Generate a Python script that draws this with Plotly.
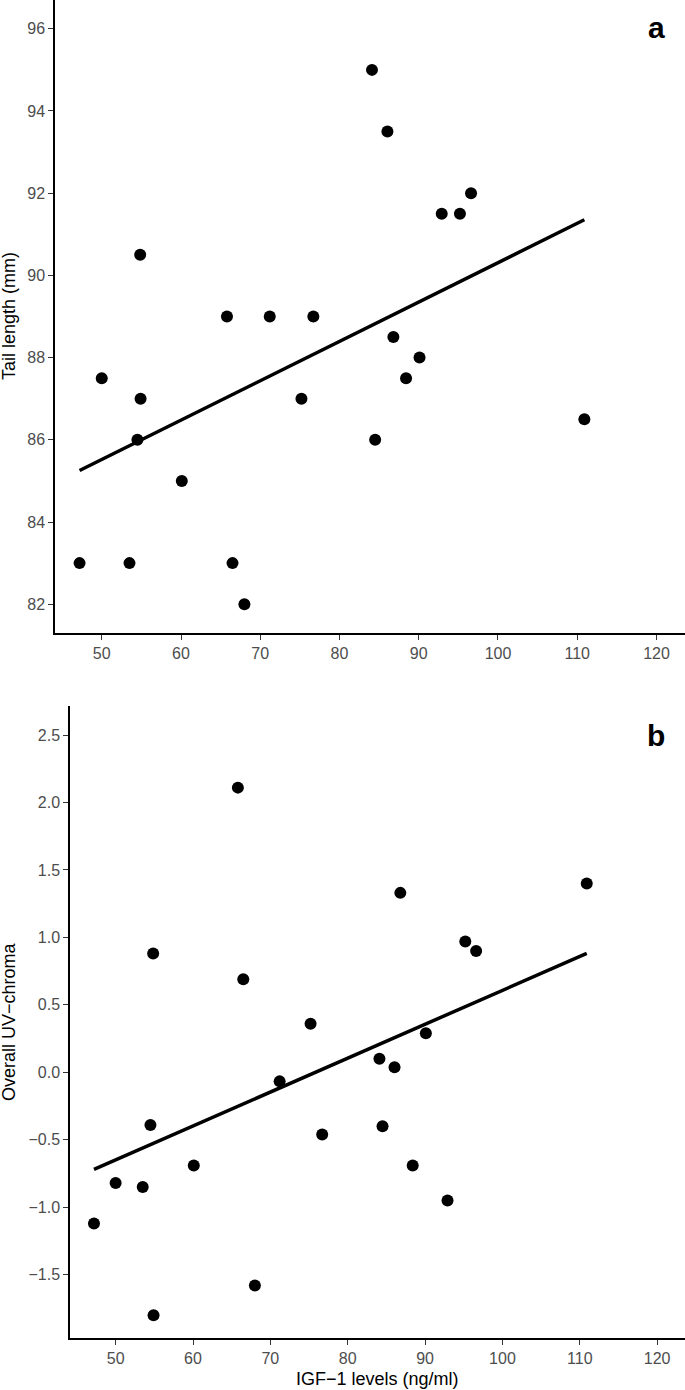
import numpy as np
import plotly.graph_objects as go

# IGF-1 levels (ng/ml), one value per individual (shared by both panels)
igf = [47.2, 50.0, 53.5, 54.5, 54.85, 54.9, 60.1, 65.8, 66.5, 68.0, 71.2, 75.2,
       76.7, 84.1, 84.5, 86.05, 86.8, 88.4, 90.1, 92.9, 95.2, 96.6, 110.9]
# Panel a: tail length (mm)
tail = [83, 87.5, 83, 86, 90.5, 87, 85, 89, 83, 82, 89, 87,
        89, 95, 86, 93.5, 88.5, 87.5, 88, 91.5, 91.5, 92, 86.5]
# Panel b: overall UV-chroma
uv = [-1.12, -0.82, -0.85, -0.39, 0.88, -1.80, -0.69, 2.11, 0.69, -1.58, -0.067, 0.36,
      -0.46, 0.10, -0.40, 0.037, 1.33, -0.69, 0.29, -0.95, 0.97, 0.90, 1.40]

x_ticks = [50, 60, 70, 80, 90, 100, 110, 120]
tail_ticks = [82, 84, 86, 88, 90, 92, 94, 96]
uv_ticks = [-1.5, -1.0, -0.5, 0.0, 0.5, 1.0, 1.5, 2.0, 2.5]

FONT = "Liberation Sans, Arial, Helvetica, sans-serif"
W, H = 685, 1390

x = np.array(igf)
xfit = np.array([x.min(), x.max()])
fa = np.polyfit(x, np.array(tail), 1)
fb = np.polyfit(x, np.array(uv), 1)

fig = go.Figure()
fig.add_trace(go.Scatter(x=igf, y=tail, mode="markers", xaxis="x", yaxis="y",
                         marker=dict(color="black", size=12), showlegend=False))
fig.add_trace(go.Scatter(x=xfit, y=np.polyval(fa, xfit), mode="lines", xaxis="x", yaxis="y",
                         line=dict(color="black", width=3.5), showlegend=False))
fig.add_trace(go.Scatter(x=igf, y=uv, mode="markers", xaxis="x2", yaxis="y2",
                         marker=dict(color="black", size=12), showlegend=False))
fig.add_trace(go.Scatter(x=xfit, y=np.polyval(fb, xfit), mode="lines", xaxis="x2", yaxis="y2",
                         line=dict(color="black", width=3.5), showlegend=False))

axcommon = dict(showgrid=False, zeroline=False, showline=True, linecolor="black", linewidth=1.5,
                ticks="outside", ticklen=5, tickwidth=1.2, tickcolor="#333333",
                tickfont=dict(family=FONT, size=16, color="#4D4D4D"), automargin=False)

a_left, b_left = 55 / W, 70 / W
a_bot, a_top = (H - 633) / H, 1.0
b_bot, b_top = (H - 1338) / H, (H - 706) / H


def ann(text, px, py, size, angle=0):
    return dict(text=text, textangle=angle, xref="paper", yref="paper",
                x=px / W, y=(H - py) / H, xanchor="center", yanchor="middle",
                showarrow=False, font=dict(family=FONT, size=size, color="black"))


fig.update_layout(
    width=W, height=H, margin=dict(l=0, r=0, t=0, b=0),
    paper_bgcolor="white", plot_bgcolor="white",
    xaxis=dict(domain=[a_left, 1], range=[44.1, 123.6], tickvals=x_ticks, anchor="y", **axcommon),
    yaxis=dict(domain=[a_bot, a_top], range=[81.3, 96.7], tickvals=tail_ticks, anchor="x", **axcommon),
    xaxis2=dict(domain=[b_left, 1], range=[44.1, 123.6], tickvals=x_ticks, anchor="y2", **axcommon),
    yaxis2=dict(domain=[b_bot, b_top], range=[-1.969, 2.715], tickvals=uv_ticks, tickformat=".1f",
                anchor="x2", **axcommon),
    annotations=[
        ann("Tail length (mm)", 9, 316, 18, -90),
        ann("Overall UV\u2212chroma", 9, 1022, 18, -90),
        ann("IGF\u22121 levels (ng/ml)", 377, 1379, 18),
        ann("<b>a</b>", 656, 27, 30),
        ann("<b>b</b>", 656, 735, 30),
    ],
)

fig.write_html("out.html", config={"displayModeBar": False},
               post_script="document.body.style.margin='0';document.body.style.overflow='hidden';")
